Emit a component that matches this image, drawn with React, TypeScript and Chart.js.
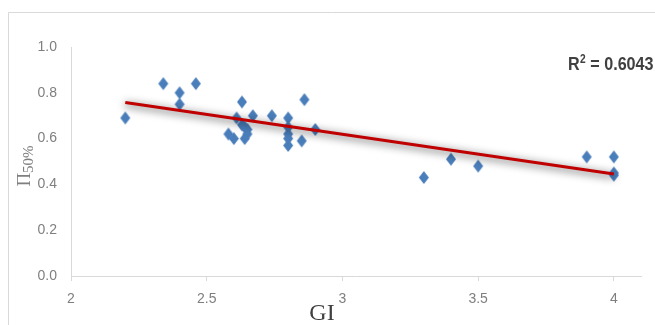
import React, { useEffect, useRef } from "react";
import { Chart, registerables } from "chart.js";

Chart.register(...registerables);

// ---- data ----
const giValues = [2.2, 2.34, 2.4, 2.4, 2.46, 2.58, 2.6, 2.61, 2.63, 2.63, 2.64, 2.64, 2.65, 2.65, 2.67, 2.74, 2.8, 2.8, 2.8, 2.8, 2.8, 2.85, 2.86, 2.9, 3.3, 3.4, 3.5, 3.9, 4.0, 4.0, 4.0];
const etaValues = [0.69, 0.84, 0.8, 0.75, 0.84, 0.62, 0.6, 0.69, 0.66, 0.76, 0.65, 0.6, 0.64, 0.62, 0.7, 0.7, 0.69, 0.65, 0.62, 0.6, 0.57, 0.59, 0.77, 0.64, 0.43, 0.51, 0.48, 0.52, 0.52, 0.45, 0.44];
const trendGI = [2.2, 4.0];
const trendEta = [0.758, 0.445];
const xTickValues = [2, 2.5, 3, 3.5, 4];
const yTickValues = [0, 0.2, 0.4, 0.6, 0.8, 1.0];
const xTitle = "GI";
const yTitleMain = "Π";
const yTitleSub = "50%";
const r2Main = "R";
const r2Sup = "2";
const r2Rest = " = 0.6043";

const NARROW = "'Liberation Sans Narrow', 'Liberation Sans', Arial, sans-serif";
const SERIF = "'Liberation Serif', 'Times New Roman', serif";

function makeDiamond(w: number, h: number, color: string) {
  const pad = 2;
  const c = document.createElement("canvas");
  c.width = w + pad * 2;
  c.height = h + pad * 2;
  const g = c.getContext("2d")!;
  try {
    (g as any).filter = "blur(0.5px)";
  } catch (e) {}
  g.fillStyle = color;
  g.beginPath();
  g.moveTo(pad + w / 2, pad);
  g.lineTo(pad + w, pad + h / 2);
  g.lineTo(pad + w / 2, pad + h);
  g.lineTo(pad, pad + h / 2);
  g.closePath();
  g.fill();
  return c;
}

const decorPlugin = {
  id: "decor",
  beforeDraw(chart: any) {
    const ctx = chart.ctx;
    ctx.save();
    ctx.fillStyle = "#ffffff";
    ctx.fillRect(0, 0, chart.width, chart.height);
    ctx.strokeStyle = "#d9d9d9";
    ctx.lineWidth = 1;
    ctx.beginPath();
    ctx.moveTo(8.5, chart.height);
    ctx.lineTo(8.5, 12.5);
    ctx.lineTo(chart.width, 12.5);
    ctx.stroke();
    ctx.restore();
  },
  beforeDatasetDraw(chart: any, args: any) {
    if (args.index === 0) {
      const ctx = chart.ctx;
      ctx.save();
      ctx.shadowColor = "rgba(0,0,0,0.75)";
      ctx.shadowBlur = 8;
      ctx.shadowOffsetX = 0;
      ctx.shadowOffsetY = 2;
    }
  },
  afterDatasetDraw(chart: any, args: any) {
    if (args.index === 0) chart.ctx.restore();
  },
  afterDraw(chart: any) {
    const ctx = chart.ctx;
    const area = chart.chartArea;
    ctx.save();
    // x title
    ctx.fillStyle = "#404040";
    ctx.font = `24px ${SERIF}`;
    ctx.textAlign = "center";
    ctx.textBaseline = "alphabetic";
    ctx.fillText(xTitle, area.left + 251, area.bottom + 44);

    // y title (rotated)
    ctx.save();
    ctx.translate(30, 166);
    ctx.rotate(-Math.PI / 2);
    ctx.fillStyle = "#7f7f7f";
    ctx.textAlign = "left";
    ctx.font = `19px ${SERIF}`;
    const mainW = ctx.measureText(yTitleMain).width;
    ctx.font = `15px ${SERIF}`;
    const subW = ctx.measureText(yTitleSub).width;
    const start = -(mainW + subW) / 2;
    ctx.font = `19px ${SERIF}`;
    ctx.fillText(yTitleMain, start, 0);
    ctx.font = `15px ${SERIF}`;
    ctx.fillText(yTitleSub, start + mainW, 3);
    ctx.restore();

    // R² label (horizontally condensed like the reference)
    ctx.save();
    ctx.translate(568, 70);
    ctx.scale(0.85, 1);
    ctx.fillStyle = "#404040";
    ctx.textAlign = "left";
    ctx.font = `bold 19px ${NARROW}`;
    let x = 0;
    ctx.fillText(r2Main, x, 0);
    x += ctx.measureText(r2Main).width + 0.5;
    ctx.font = `bold 12px ${NARROW}`;
    ctx.fillText(r2Sup, x, -7);
    x += ctx.measureText(r2Sup).width;
    ctx.font = `bold 19px ${NARROW}`;
    ctx.fillText(r2Rest, x, 0);
    ctx.restore();
    ctx.restore();
  },
};

export default function App() {
  const ref = useRef<HTMLCanvasElement | null>(null);

  useEffect(() => {
    document.body.style.margin = "0";
    const canvas = ref.current;
    if (!canvas) return;
    const diamond = makeDiamond(10, 13, "#4a7ebb");
    const points = giValues.map((g, i) => ({ x: g, y: etaValues[i] }));
    const trend = trendGI.map((g, i) => ({ x: g, y: trendEta[i] }));

    const chart = new Chart(canvas, {
      type: "scatter",
      data: {
        datasets: [
          {
            label: "trend",
            data: trend,
            showLine: true,
            borderColor: "#c00000",
            backgroundColor: "#c00000",
            borderWidth: 3,
            pointRadius: 0,
            order: 0,
          } as any,
          {
            label: "data",
            data: points,
            pointStyle: diamond as any,
            pointRadius: 6,
            backgroundColor: "#4a7ebb",
            borderColor: "#4a7ebb",
            order: 1,
          } as any,
        ],
      },
      options: {
        responsive: false,
        animation: false,
        devicePixelRatio: 1,
        layout: { padding: { top: 47, right: 14, left: 0, bottom: 0 } },
        plugins: {
          legend: { display: false },
          tooltip: { enabled: false },
        },
        scales: {
          x: {
            type: "linear",
            min: 2,
            max: 4.1,
            afterBuildTicks: (scale: any) => {
              scale.ticks = xTickValues.map((v) => ({ value: v }));
            },
            afterFit: (scale: any) => {
              scale.height = 49;
            },
            ticks: {
              autoSkip: false,
              includeBounds: false,
              maxRotation: 0,
              padding: 10,
              color: "#7f7f7f",
              font: { family: NARROW, size: 14 },
              callback: (v: any) => String(v),
            },
            grid: {
              drawOnChartArea: false,
              drawTicks: true,
              tickLength: 5,
              color: "#d9d9d9",
            },
            border: { display: true, color: "#d9d9d9", width: 1 },
          },
          y: {
            type: "linear",
            min: 0,
            max: 1,
            afterBuildTicks: (scale: any) => {
              scale.ticks = yTickValues.map((v) => ({ value: v }));
            },
            afterFit: (scale: any) => {
              scale.width = 71;
            },
            ticks: {
              autoSkip: false,
              padding: 14,
              color: "#7f7f7f",
              font: { family: NARROW, size: 14 },
              callback: (v: any) => Number(v).toFixed(1),
            },
            grid: { display: false, drawTicks: false },
            border: { display: true, color: "#d9d9d9", width: 1 },
          },
        },
      } as any,
      plugins: [decorPlugin as any],
    });
    return () => chart.destroy();
  }, []);

  return (
    <div style={{ width: 655, height: 325 }}>
      <canvas ref={ref} width={655} height={325} style={{ display: "block", width: 655, height: 325 }} />
    </div>
  );
}
